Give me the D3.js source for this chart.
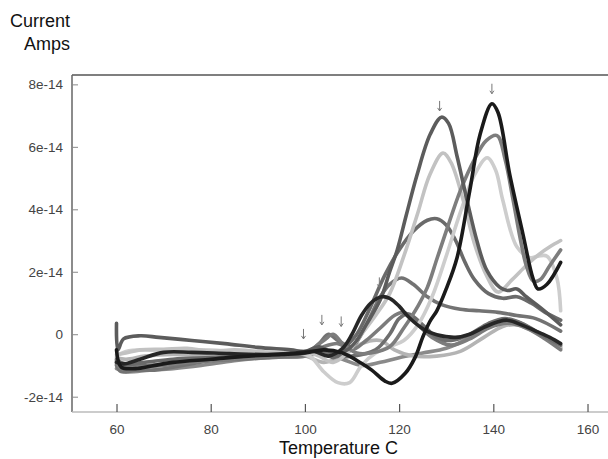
<!DOCTYPE html>
<html>
<head>
<meta charset="utf-8">
<script src="https://cdn.jsdelivr.net/npm/d3@7"></script>
<style>
  body { margin: 0; background: #fff; }
  svg { display: block; font-family: "Liberation Sans", Arial, sans-serif; }
</style>
</head>
<body>
<div id="chart"></div>
<script>
// values are in units of 1e-14 A, temperature in C
var xTicks = [60, 80, 100, 120, 140, 160];
var yTicks = [-2, 0, 2, 4, 6, 8];

var runA = [[60,-0.5],[61,-1.05],[64,-1.1],[68,-1.0],[72,-0.9],[80,-0.8],[88,-0.7],[95,-0.65],[100,-0.6],[104,-0.5],[108,-0.6],[112,-0.93],[114.2,-1.15],[117,-1.5],[118.5,-1.57],[121.3,-1.25],[123.4,-0.74],[125,-0.1],[126.5,0.4],[128,0.75],[130,1.45],[132.3,2.45],[135,4.6],[137.2,6.4],[139.7,7.38],[141,7.1],[143.5,5.1],[146.3,3.2],[148.4,1.8],[149.5,1.45],[151.4,1.6],[154.3,2.3]];
var runB = [[60,-0.9],[61.5,-0.95],[65,-0.8],[70,-0.58],[76,-0.58],[84,-0.62],[92,-0.65],[98,-0.6],[102,-0.55],[105,-0.7],[108,-0.45],[110,0.0],[112,0.6],[114,1.0],[116.3,1.2],[118,1.15],[120,0.9],[122,0.55],[125.5,0.13],[128,-0.02],[132,-0.1],[135,0.0],[138,0.22],[141,0.4],[143,0.45],[146,0.3],[149,0.1],[152,-0.1],[154.3,-0.3]];
var runC = [[60,0.35],[60.3,-0.5],[61.5,-0.15],[65,-0.05],[69,-0.1],[76,-0.2],[83,-0.3],[90,-0.42],[97,-0.5],[100,-0.55],[103,-0.4],[106,-0.6],[109,-0.5],[111,-0.2],[113,0.3],[116,1.1],[118,2.0],[119.6,2.7],[121.5,3.8],[123.8,5.1],[126.6,6.4],[129,6.95],[130.5,6.75],[132.3,5.7],[134.4,4.3],[136.5,3.0],[138.6,2.05],[141.4,1.5],[143,1.4],[145,1.45],[147,1.2],[150,0.85],[154.3,0.3]];
var runD = [[60,-0.65],[62,-0.6],[65,-0.5],[70,-0.48],[75,-0.45],[80,-0.55],[85,-0.5],[90,-0.55],[95,-0.6],[100,-0.55],[103,-0.7],[106,-0.9],[109,-0.6],[112,0.0],[115,0.6],[118,1.3],[121,2.5],[124,3.9],[126.5,5.1],[129.3,5.8],[131,5.5],[133.6,4.3],[136,2.9],[138.5,1.9],[141,1.35],[144,1.75],[147,2.2],[149.9,2.58],[152,2.8],[154.3,3.0]];
var runE = [[60,-0.7],[62,-0.55],[66,-0.5],[72,-0.55],[78,-0.5],[85,-0.55],[92,-0.6],[98,-0.62],[101,-0.7],[104,-1.2],[107,-1.55],[109.5,-1.55],[112,-1.0],[115,-0.6],[118,-0.4],[121,-0.2],[124,0.3],[127,1.2],[130,2.5],[133,3.9],[136,5.1],[138.7,5.65],[140.5,5.25],[142,4.3],[145,2.8],[147.8,2.45],[149.5,2.5],[151.4,2.5],[153.5,1.8],[154.3,0.75]];
var runF = [[60,-0.9],[61,-1.1],[65,-1.05],[70,-1.0],[75,-0.9],[80,-0.85],[88,-0.75],[95,-0.65],[100,-0.6],[104,-0.2],[106,0.0],[108,-0.3],[111,-0.6],[114,-0.6],[118,-0.4],[121,0.2],[124,0.9],[126,1.5],[128,2.4],[130,3.3],[133,4.6],[136,5.6],[138.5,6.2],[140.8,6.36],[142.5,5.6],[144.2,4.3],[145.8,3.0],[147,2.2],[148.5,1.7],[150,1.75],[152,2.2],[154.3,2.7]];
var runG = [[60,-1.0],[61,-1.2],[64,-1.15],[68,-1.15],[74,-1.0],[80,-0.85],[86,-0.8],[92,-0.75],[97,-0.7],[100,-0.65],[103,-0.3],[105,0.0],[107,-0.2],[110,-0.4],[112,0.0],[114,0.6],[116,1.2],[118,1.6],[120.5,1.8],[123,1.6],[126,1.2],[129,0.95],[133,0.8],[137,0.75],[141,0.7],[145,0.6],[149,0.5],[154.3,0.1]];
var runH = [[60,-1.1],[62,-1.2],[67,-1.15],[72,-1.1],[78,-1.0],[85,-0.85],[92,-0.75],[100,-0.7],[104,-0.6],[108,-0.8],[112,-1.0],[116,-0.9],[120,-0.75],[125,-0.6],[130,-0.45],[135,-0.1],[139,0.3],[142,0.45],[145,0.4],[148,0.2],[151,-0.1],[154.3,-0.45]];
var runI = [[60,-0.8],[62,-1.0],[66,-1.0],[72,-0.95],[80,-0.8],[88,-0.72],[96,-0.68],[102,-0.55],[106,-0.7],[110,-0.7],[115,-0.5],[118,0.0],[120,0.5],[122,0.65],[125,0.3],[128,-0.1],[131,-0.2],[135,0.0],[139,0.35],[142.5,0.5],[146,0.35],[150,0.0],[154.3,-0.35]];
var runJ = [[60,-0.75],[62,-0.8],[66,-0.7],[72,-0.65],[80,-0.7],[88,-0.68],[96,-0.7],[100,-0.7],[104,-0.9],[108,-0.7],[112,-0.3],[116,-0.2],[119,-0.5],[123,-0.7],[128,-0.7],[133,-0.55],[138,-0.1],[142,0.25],[145,0.3],[149,0.05],[154.3,-0.4]];
var runK = [[60,-0.95],[62,-1.05],[68,-1.0],[75,-0.85],[84,-0.75],[92,-0.7],[100,-0.7],[104,-0.4],[107,-0.3],[110,-0.5],[113,-0.2],[116,0.2],[119,0.6],[121,0.7],[124,0.3],[127,-0.1],[131,-0.35],[135,-0.15],[139,0.2],[143,0.35],[147,0.2],[151,-0.15],[154.3,-0.5]];
var runL = [[60,-0.85],[62,-0.95],[66,-0.9],[72,-0.8],[80,-0.75],[88,-0.7],[96,-0.65],[100,-0.6],[103,-0.5],[106,-0.75],[108,-0.5],[111,0.0],[114,0.9],[117,1.9],[120,2.7],[123,3.3],[126,3.65],[128,3.7],[130,3.5],[132,3.0],[134,2.3],[136,1.75],[139,1.3],[142,1.15],[145,1.2],[148,1.0],[151,0.7],[154.3,0.45]];

var runs = [runH, runJ, runK, runI, runG, runL, runE, runD, runF, runC, runB, runA];
var runColors = ["#8a8a8a", "#b4b4b4", "#7c7c7c", "#6e6e6e", "#737373", "#6a6a6a", "#cdcdcd", "#c2c2c2", "#7d7d7d", "#5c5c5c", "#262626", "#1a1a1a"];

// peak markers (small arrows above the curves)
var peakMarks = [[99.7,-0.15],[103.6,0.3],[107.7,0.25],[115.8,1.5],[128.6,7.15],[139.7,7.7]];

var width = 608, height = 459;
var svg = d3.select("#chart").append("svg")
  .attr("width", width)
  .attr("height", height);

var plotL = 72, plotT = 75, plotB = 412, plotR = 608;

var x = d3.scaleLinear().domain([50.55, 164.35]).range([plotL, plotR]);
var y = d3.scaleLinear().domain([-2.49, 8.30]).range([plotB, plotT]);

// frame
svg.append("line").attr("x1", plotL).attr("x2", plotR).attr("y1", plotT).attr("y2", plotT)
  .attr("stroke", "#555").attr("stroke-width", 1.5);
svg.append("line").attr("x1", plotL).attr("x2", plotL).attr("y1", plotT).attr("y2", plotB)
  .attr("stroke", "#666").attr("stroke-width", 1.5);
svg.append("line").attr("x1", plotL).attr("x2", plotR).attr("y1", plotB).attr("y2", plotB)
  .attr("stroke", "#bbb").attr("stroke-width", 1.5);

// axes
var yAxis = svg.append("g")
  .attr("transform", "translate(" + plotL + ",0)")
  .call(d3.axisLeft(y).tickValues(yTicks).tickSize(-6).tickPadding(9)
    .tickFormat(function(d) { return d === 0 ? "0" : d + "e-14"; }));
yAxis.select(".domain").remove();
yAxis.selectAll("line").attr("stroke", "#888");
yAxis.selectAll("text").attr("font-size", 13.5).attr("fill", "#444")
  .attr("font-family", "Liberation Sans, Arial, sans-serif");

var xAxis = svg.append("g")
  .attr("transform", "translate(0," + plotB + ")")
  .call(d3.axisBottom(x).tickValues(xTicks).tickSize(-8).tickPadding(12));
xAxis.select(".domain").remove();
xAxis.selectAll("line").attr("stroke", "#555").attr("stroke-width", 1.2);
xAxis.selectAll("text").attr("font-size", 13.5).attr("fill", "#444")
  .attr("font-family", "Liberation Sans, Arial, sans-serif");

// curves
var line = d3.line()
  .x(function(d) { return x(d[0]); })
  .y(function(d) { return y(d[1]); })
  .curve(d3.curveCatmullRom.alpha(0.5));

svg.append("g").selectAll("path")
  .data(runs)
  .enter().append("path")
  .attr("d", line)
  .attr("fill", "none")
  .attr("stroke", function(d, i) { return runColors[i]; })
  .attr("stroke-width", 3.6)
  .attr("stroke-linejoin", "round")
  .attr("stroke-linecap", "round");

// little arrows marking peaks
svg.append("g").selectAll("path")
  .data(peakMarks)
  .enter().append("path")
  .attr("d", function(d) {
    var px = x(d[0]), py = y(d[1]);
    return "M" + px + "," + (py - 10) + "V" + py + "M" + (px - 2) + "," + (py - 3) + "L" + px + "," + py + "L" + (px + 2) + "," + (py - 3);
  })
  .attr("fill", "none")
  .attr("stroke", "#777")
  .attr("stroke-width", 1);

// titles
svg.append("text").attr("x", 70).attr("y", 27).attr("text-anchor", "end")
  .attr("font-size", 18).attr("fill", "#111").text("Current");
svg.append("text").attr("x", 70).attr("y", 50).attr("text-anchor", "end")
  .attr("font-size", 18).attr("fill", "#111").text("Amps");
svg.append("text").attr("x", 338.5).attr("y", 454).attr("text-anchor", "middle")
  .attr("font-size", 18).attr("fill", "#111").text("Temperature C");
</script>
</body>
</html>
